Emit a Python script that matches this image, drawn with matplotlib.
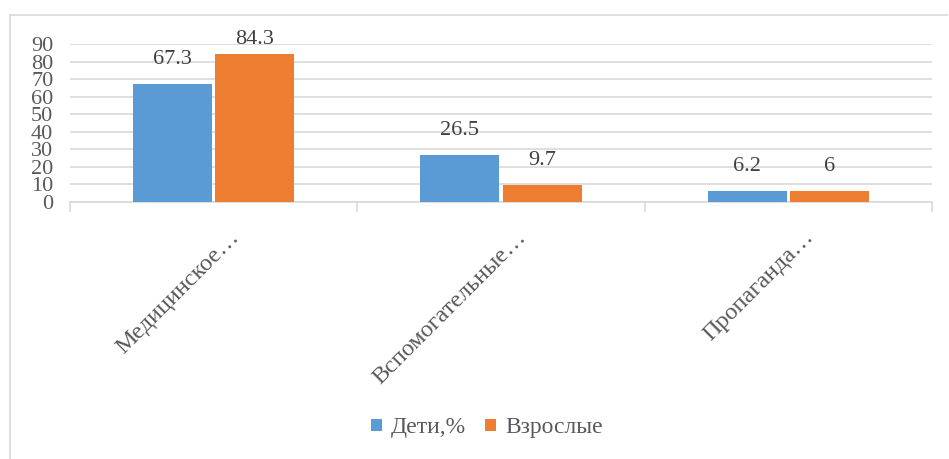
import matplotlib
matplotlib.use("Agg")
import matplotlib.pyplot as plt
from matplotlib.patches import Patch
import numpy as np

serif = "Liberation Serif"
plt.rcParams["font.family"] = serif

categories = ["Медицинское…", "Вспомогательные…", "Пропаганда…"]
children = [67.3, 26.5, 6.2]
adults = [84.3, 9.7, 6]
series_names = ["Дети,%", "Взрослые"]
yticks = [0, 10, 20, 30, 40, 50, 60, 70, 80, 90]

blue = "#5B9BD5"
orange = "#ED7D31"
grid_c = "#D9D9D9"
text_c = "#595959"
label_c = "#404040"
fs = 16

W, H = 949, 459
fig = plt.figure(figsize=(W / 100, H / 100), dpi=100)
ax = fig.add_axes([70 / W, (H - 202) / H, (932 - 70) / W, (202 - 44) / H])

# outer chart frame: left and top edges
top = (H - 15) / H
fig.add_artist(plt.Line2D([10 / W, 10 / W], [0, top], transform=fig.transFigure,
                          color=grid_c, linewidth=1.2))
fig.add_artist(plt.Line2D([10 / W, 947 / W], [top, top], transform=fig.transFigure,
                          color=grid_c, linewidth=1.2))

x = np.arange(len(categories))
w = 0.275
off = 0.1435
ax.bar(x - off, children, w, color=blue, zorder=3)
ax.bar(x + off, adults, w, color=orange, zorder=3)

# value labels above bars, held just above the plot top
for xs, vals in ((x - off, children), (x + off, adults)):
    for xi, v in zip(xs, vals):
        ax.text(xi, min(v + 11.5, 90), f"{v:g}", ha="center", va="baseline",
                fontsize=fs, color=label_c, family=serif, clip_on=False, zorder=4)

ax.set_xlim(-0.5, 2.5)
ax.set_ylim(0, 90)
ax.set_yticks(yticks)
ax.set_yticklabels([str(t) for t in yticks], fontsize=fs, color=text_c, family=serif)
ax.tick_params(axis="y", length=0, pad=12)
ax.yaxis.grid(True, color=grid_c, linewidth=1.2, zorder=0)

ax.set_xticks([])
ax.set_xticks([-0.5, 0.5, 1.5, 2.5], minor=True)
ax.tick_params(axis="x", which="minor", length=7.2, width=1.2, color=grid_c,
               direction="out")
ax.xaxis.set_tick_params(which="minor", labelbottom=False)

for s in ("top", "right", "left"):
    ax.spines[s].set_visible(False)
ax.spines["bottom"].set_color(grid_c)
ax.spines["bottom"].set_linewidth(1.2)

# rotated category names hanging below the axis
for xi, name in zip(x, categories):
    ax.annotate(name, xy=(xi, 0), xytext=(19, -26), textcoords="offset points",
                rotation=45, rotation_mode="anchor", ha="right", va="baseline",
                fontsize=17.5, color=text_c, family=serif, annotation_clip=False)

handles = [Patch(facecolor=blue), Patch(facecolor=orange)]
fig.legend(handles, series_names, loc="center", bbox_to_anchor=(487 / W, 1 - 428 / H),
           ncol=2, frameon=False, prop={"family": serif, "size": 17},
           labelcolor=text_c, handlelength=0.45, handleheight=0.45,
           handletextpad=0.4, columnspacing=0.8)

fig.savefig("out.png", dpi=100)
